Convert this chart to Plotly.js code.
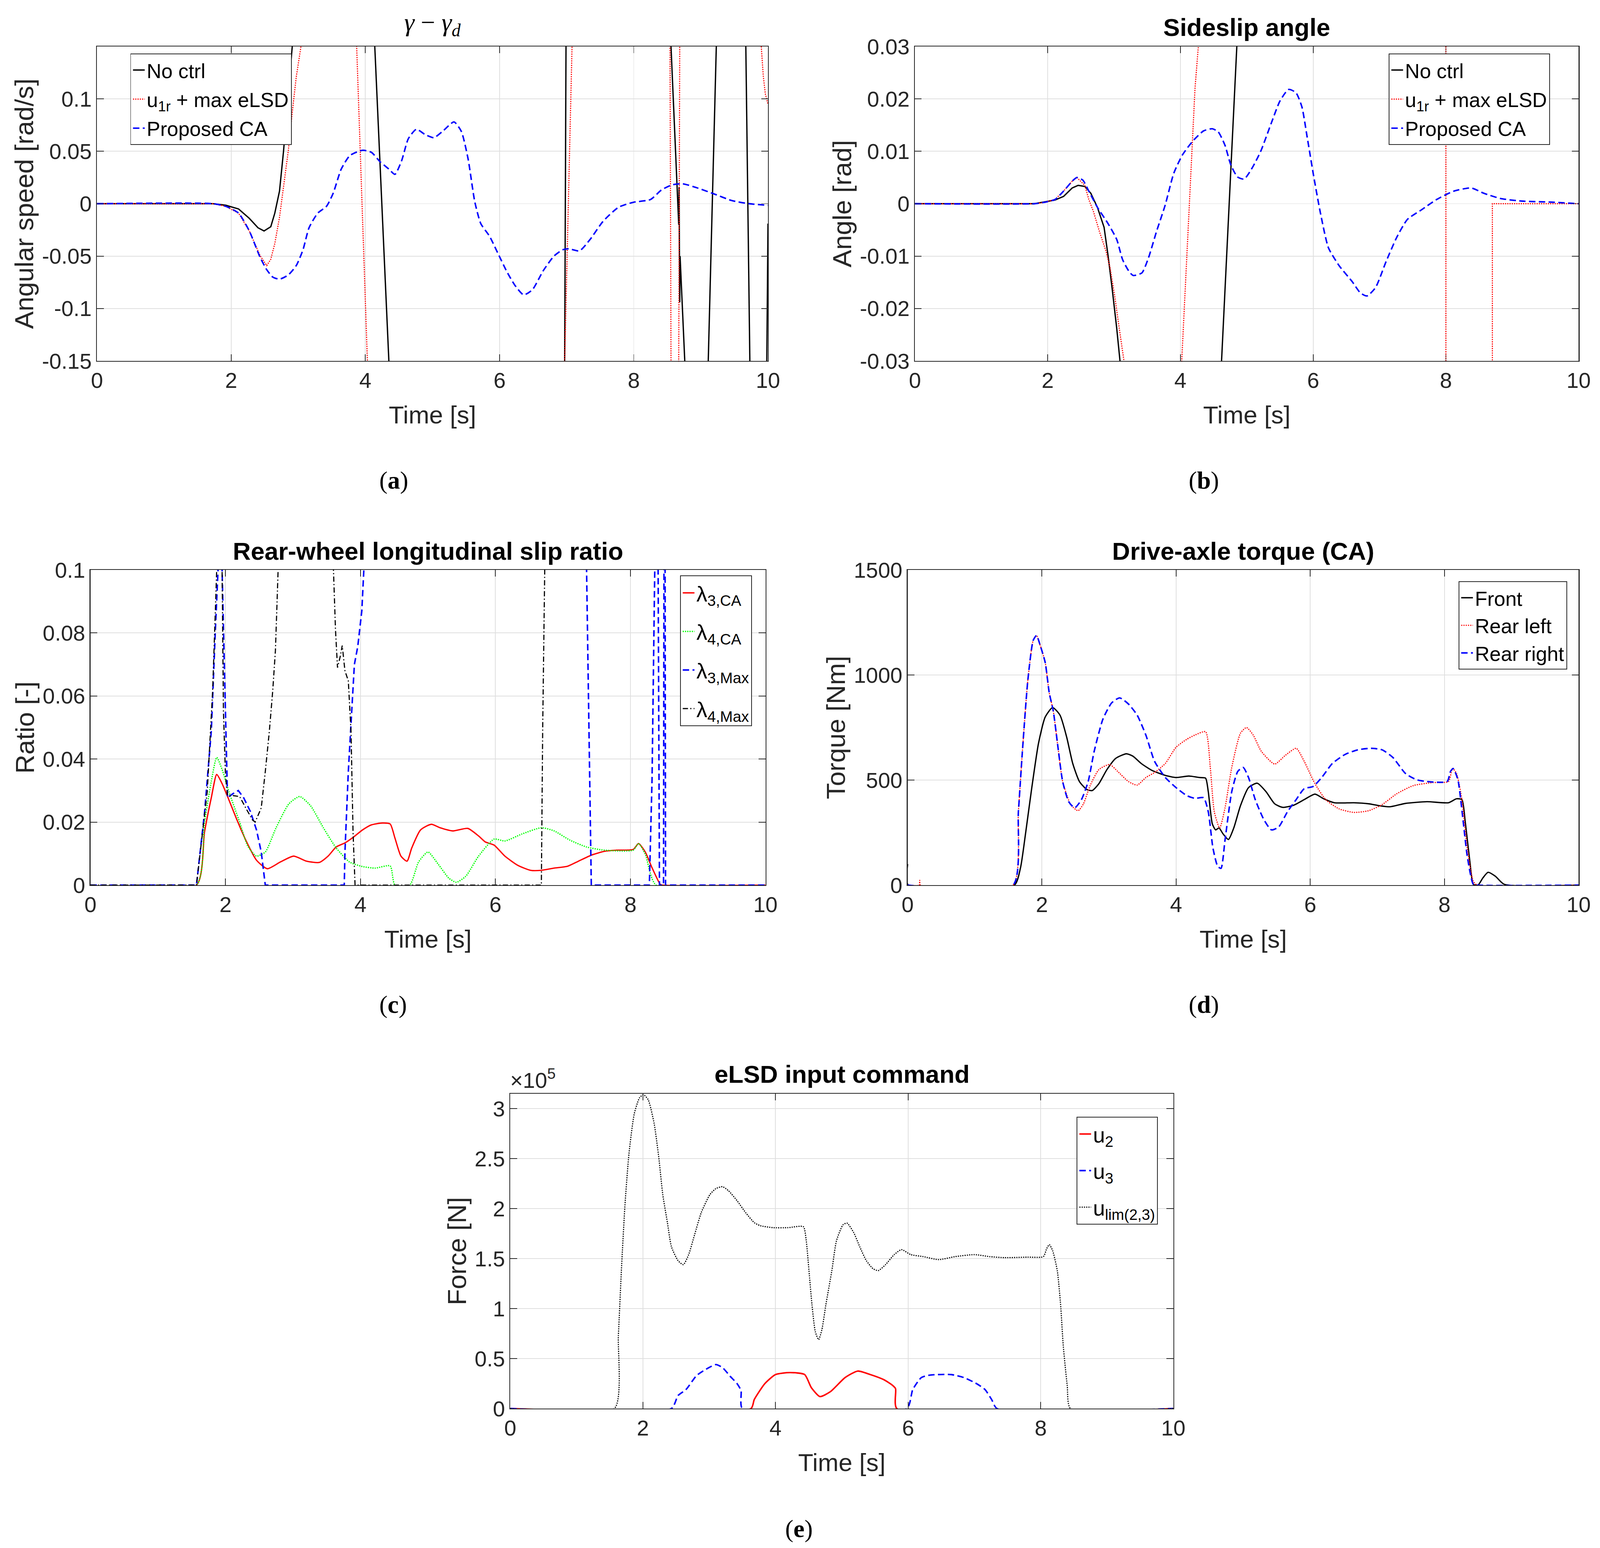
<!DOCTYPE html>
<html>
<head>
<meta charset="utf-8">
<script src="https://cdn.plot.ly/plotly-3.0.1.min.js"></script>
<style>html,body{margin:0;padding:0;background:#fff;overflow:hidden;}#chart{position:absolute;left:0;top:0;}</style>
</head>
<body>
<div id="chart"></div>
<script>
// ---------------- DATA ----------------
// (a) gamma - gamma_d  [rad/s]
const aNoCtrlT = [0,1.73,1.92,2.11,2.27,2.40,2.49,2.59,2.65,2.72,2.78,2.85,2.91,2.95,4.10,4.14,4.35,4.40,6.95,6.97,6.99,7.01,8.53,8.555,8.67,8.675,8.685,8.69,8.76,8.80,9.09,9.11,9.23,9.25,9.65,9.67,9.73,9.75,9.97,9.985,10];
const aNoCtrlY = [0,0,-0.0015,-0.005,-0.014,-0.023,-0.026,-0.022,-0.009,0.012,0.050,0.102,0.15,0.25,0.25,0.15,-0.15,-0.25,-0.25,-0.15,0.15,0.25,0.25,0.15,-0.02,0.016,-0.094,-0.05,-0.15,-0.25,-0.25,-0.15,0.15,0.25,0.25,0.15,-0.15,-0.25,-0.25,-0.15,-0.019];
const aMaxT = [0,1.73,1.92,2.11,2.27,2.43,2.53,2.59,2.65,2.72,2.78,2.85,2.91,2.97,3.04,3.10,3.80,3.87,4.03,4.10,6.95,6.97,7.08,7.12,8.53,8.54,8.555,8.565,8.66,8.67,8.685,8.70,9.86,9.90,9.93,9.96,10];
const aMaxY = [0,0,-0.0025,-0.009,-0.026,-0.0495,-0.059,-0.053,-0.038,-0.013,0.016,0.050,0.087,0.121,0.15,0.25,0.25,0.15,-0.15,-0.25,-0.25,-0.15,0.15,0.25,0.25,0.15,-0.15,-0.25,-0.25,-0.15,0.15,0.25,0.25,0.15,0.122,0.105,0.095];
const aCAT = [0,1.73,1.92,2.11,2.27,2.43,2.53,2.62,2.72,2.85,2.97,3.07,3.16,3.29,3.42,3.52,3.64,3.77,3.96,4.09,4.22,4.35,4.44,4.54,4.64,4.76,4.89,5.02,5.15,5.32,5.43,5.53,5.63,5.72,5.85,5.98,6.11,6.23,6.36,6.49,6.65,6.81,6.94,7.03,7.19,7.35,7.54,7.77,7.99,8.25,8.41,8.57,8.73,8.95,9.21,9.46,9.72,10];
const aCAY = [0,0,-0.0025,-0.009,-0.026,-0.051,-0.063,-0.070,-0.072,-0.068,-0.059,-0.044,-0.023,-0.009,-0.0025,0.010,0.033,0.046,0.051,0.049,0.040,0.033,0.028,0.041,0.062,0.071,0.066,0.063,0.069,0.078,0.069,0.043,0.002,-0.019,-0.031,-0.048,-0.065,-0.078,-0.087,-0.082,-0.064,-0.050,-0.044,-0.043,-0.045,-0.034,-0.017,-0.0035,0.0013,0.004,0.013,0.018,0.019,0.015,0.009,0.003,0.0,-0.0015];
const aTickVals = [-0.15,-0.1,-0.05,0,0.05,0.1];
const aTickText = ["-0.15","-0.1","-0.05","0","0.05","0.1"];

// (b) Sideslip angle [rad]
const bNoCtrlT = [0,1.80,2.11,2.24,2.37,2.46,2.56,2.65,2.75,2.85,2.91,2.97,3.04,3.09,3.15,4.55,4.62,4.85,4.92,10];
const bNoCtrlY = [0,0,0.0007,0.0014,0.003,0.0035,0.0033,0.002,-0.0007,-0.0045,-0.0099,-0.016,-0.0237,-0.03,-0.05,-0.05,-0.03,0.03,0.05,0.05];
const bMaxT = [0,1.80,1.92,2.11,2.24,2.37,2.44,2.56,2.62,2.69,2.78,2.88,2.94,3.01,3.07,3.15,3.22,3.95,4.02,4.09,4.16,4.22,4.27,4.35,8.0,8.0,8.70,8.70,10];
const bMaxY = [0,0,0.0002,0.0008,0.0024,0.0043,0.005,0.0035,0.0008,-0.0015,-0.0053,-0.0091,-0.0122,-0.0176,-0.023,-0.03,-0.05,-0.05,-0.03,-0.012,0.007,0.022,0.03,0.05,0.05,-0.05,-0.05,0,0];
const bCAT = [0,1.80,1.92,2.11,2.24,2.37,2.44,2.53,2.62,2.75,2.91,3.04,3.13,3.23,3.29,3.42,3.52,3.64,3.77,3.90,4.03,4.19,4.35,4.48,4.57,4.67,4.76,4.86,4.96,5.08,5.21,5.37,5.50,5.63,5.74,5.83,5.91,6.01,6.11,6.23,6.39,6.59,6.71,6.81,6.94,7.10,7.26,7.42,7.64,7.86,8.12,8.38,8.57,8.82,9.14,9.59,10];
const bCAY = [0,0,0.0002,0.0008,0.0024,0.0043,0.005,0.0045,0.0024,-0.0007,-0.0038,-0.0068,-0.0107,-0.013,-0.0137,-0.0132,-0.0103,-0.0053,-0.0003,0.0058,0.0093,0.012,0.0139,0.0143,0.0137,0.0112,0.0074,0.0051,0.0047,0.0068,0.010,0.0154,0.0196,0.0218,0.0212,0.0185,0.0127,0.0051,-0.0018,-0.0084,-0.0118,-0.0149,-0.017,-0.0176,-0.016,-0.011,-0.0064,-0.003,-0.0011,0.0008,0.0024,0.003,0.002,0.001,0.0005,0.0003,0];
const bTickVals = [-0.03,-0.02,-0.01,0,0.01,0.02,0.03];
const bTickText = ["-0.03","-0.02","-0.01","0","0.01","0.02","0.03"];

// (c) Rear-wheel longitudinal slip ratio [-]
const cL3CAT = [0,1.57,1.69,1.79,1.87,1.95,2.05,2.17,2.30,2.46,2.62,2.81,3.01,3.20,3.39,3.52,3.64,3.77,3.90,4.03,4.16,4.32,4.44,4.51,4.60,4.69,4.76,4.89,5.05,5.18,5.37,5.59,5.75,5.85,5.98,6.14,6.33,6.52,6.68,6.87,7.07,7.23,7.42,7.61,7.80,8.04,8.12,8.22,8.31,8.44,8.47,10];
const cL3CAY = [0,0,0.0169,0.0277,0.0351,0.0322,0.0271,0.0207,0.0143,0.0079,0.0052,0.0073,0.0092,0.0076,0.0072,0.0092,0.0121,0.0134,0.0153,0.0175,0.0191,0.0197,0.0194,0.015,0.0092,0.0076,0.0118,0.0175,0.0193,0.0182,0.0172,0.018,0.0156,0.0137,0.0127,0.0092,0.0063,0.0047,0.0047,0.0054,0.006,0.0076,0.0095,0.0107,0.0111,0.0113,0.0132,0.0105,0.006,0.0003,0,0];
const cL4CAT = [0,1.57,1.69,1.79,1.87,1.95,2.05,2.21,2.33,2.46,2.59,2.75,2.94,3.10,3.26,3.45,3.64,3.84,4.03,4.22,4.44,4.51,4.73,4.86,5.00,5.15,5.31,5.42,5.56,5.75,5.98,6.14,6.39,6.68,6.87,7.10,7.35,7.61,8.04,8.12,8.22,8.38,10];
const cL4CAY = [0,0,0.020,0.0329,0.0405,0.0367,0.0297,0.020,0.0124,0.0092,0.0105,0.0182,0.0258,0.0281,0.0252,0.0182,0.0118,0.0073,0.0059,0.0054,0.0061,0,0,0.0073,0.0105,0.0067,0.0022,0.0009,0.0028,0.0092,0.0146,0.014,0.0162,0.0182,0.0172,0.0143,0.0121,0.0111,0.0111,0.0132,0.0098,0,0];
const cL3MaxT = [0,1.57,1.69,1.79,1.85,1.89,1.91,1.93,1.95,2.03,2.11,2.19,2.27,2.37,2.46,2.53,2.59,3.76,3.77,3.82,3.87,3.91,3.96,4.02,4.05,4.07,7.33,7.35,7.42,8.28,8.32,8.36,8.38,8.40,8.41,8.43,8.49,8.50,8.51,8.52,10];
const cL3MaxY = [0,0,0.023,0.0489,0.0808,0.1,0.15,0.15,0.1,0.0277,0.029,0.030,0.0277,0.0233,0.0175,0.0105,0,0,0.0105,0.036,0.055,0.070,0.0757,0.087,0.1,0.15,0.15,0.1,0,0,0.0335,0.1,0.15,0.15,0.1,0,0,0.15,0.15,0,0];
const cL4MaxT = [0,1.57,1.73,1.81,1.85,1.87,1.89,1.93,1.95,1.97,2.00,2.03,2.11,2.21,2.30,2.40,2.44,2.53,2.59,2.65,2.70,2.74,2.76,2.78,2.80,3.58,3.60,3.63,3.66,3.70,3.73,3.77,3.82,3.86,3.89,3.92,6.68,6.70,6.73,6.75,10];
const cL4MaxY = [0,0,0.0297,0.0616,0.087,0.1,0.15,0.15,0.1,0.055,0.035,0.0284,0.0284,0.0281,0.0245,0.0207,0.020,0.0245,0.036,0.0488,0.0616,0.0744,0.087,0.1,0.15,0.15,0.1,0.081,0.069,0.0725,0.076,0.068,0.0648,0.0488,0.0169,0,0,0.05,0.1,0.15,0.15];
const cTickVals = [0,0.02,0.04,0.06,0.08,0.1];
const cTickText = ["0","0.02","0.04","0.06","0.08","0.1"];

// (d) Drive-axle torque (CA) [Nm]
const dFrontT = [0,0.01,1.59,1.68,1.76,1.85,1.95,2.05,2.16,2.27,2.37,2.46,2.56,2.67,2.75,2.85,2.97,3.10,3.26,3.36,3.48,3.64,3.84,4.00,4.19,4.35,4.44,4.48,4.54,4.59,4.64,4.70,4.78,4.86,4.96,5.08,5.21,5.34,5.47,5.59,5.75,5.91,6.07,6.20,6.36,6.65,6.87,7.03,7.19,7.42,7.74,8.06,8.18,8.26,8.31,8.38,8.43,8.50,8.57,8.65,8.76,8.89,10];
const dFrontY = [100,0,0,80,253,464,675,800,845,809,704,579,493,455,450,483,550,603,625,613,579,546,522,512,519,512,509,445,292,263,272,244,217,272,378,464,485,445,387,370,380,407,433,411,392,392,387,378,373,389,397,392,411,407,301,109,4,0,33,61,42,4,0];
const dRearLeftT = [0,0.17,0.18,0.19,1.57,1.65,1.71,1.79,1.87,1.92,1.98,2.05,2.11,2.17,2.24,2.31,2.43,2.54,2.62,2.72,2.85,3.01,3.13,3.29,3.42,3.55,3.68,3.84,4.00,4.16,4.28,4.44,4.51,4.57,4.65,4.73,4.83,4.96,5.05,5.15,5.27,5.47,5.63,5.79,5.91,6.07,6.23,6.43,6.65,6.87,7.07,7.29,7.54,7.83,8.06,8.12,8.18,8.26,8.34,8.43,8.49,10];
const dRearLeftY = [0,0,23,0,0,349,637,972,1164,1188,1136,1059,915,829,656,493,383,354,387,474,550,574,541,493,476,512,536,579,656,694,714,730,560,349,272,368,560,723,750,714,637,576,618,651,589,483,407,363,346,354,383,435,474,488,493,555,531,407,176,18,0,0];
const dRearRightT = [0,1.57,1.65,1.71,1.79,1.87,1.92,1.98,2.05,2.11,2.17,2.24,2.31,2.40,2.49,2.59,2.69,2.78,2.91,3.04,3.16,3.29,3.42,3.55,3.68,3.84,4.00,4.16,4.28,4.41,4.48,4.55,4.62,4.67,4.73,4.83,4.92,5.00,5.08,5.18,5.31,5.42,5.53,5.66,5.79,5.91,6.04,6.17,6.33,6.52,6.71,6.91,7.07,7.23,7.42,7.58,7.74,8.04,8.09,8.13,8.20,8.28,8.34,8.43,8.49,10];
const dRearRightY = [0,0,349,637,972,1164,1188,1136,1059,915,829,656,493,397,368,407,493,637,790,867,891,862,809,714,589,512,464,426,413,416,349,176,90,80,215,445,541,560,512,407,311,263,277,349,407,459,469,512,579,622,644,651,644,608,531,502,493,493,541,555,502,301,138,4,0,0];
const dTickVals = [0,500,1000,1500];

// (e) eLSD input command [N], values in units of 1e5 N
const eU2T = [0,3.63,3.68,3.84,4.00,4.22,4.44,4.54,4.67,4.83,5.05,5.24,5.43,5.63,5.75,5.81,5.83,10];
const eU2Y = [0,0,0.09,0.25,0.34,0.36,0.34,0.21,0.12,0.17,0.31,0.375,0.34,0.29,0.24,0.20,0,0];
const eU3T = [0,2.43,2.53,2.65,2.81,2.97,3.10,3.20,3.32,3.42,3.48,3.50,5.98,6.07,6.20,6.33,6.65,6.84,7.03,7.16,7.26,7.34,10];
const eU3Y = [0,0,0.13,0.19,0.33,0.40,0.44,0.41,0.32,0.25,0.18,0,0,0.19,0.31,0.335,0.34,0.31,0.25,0.19,0.09,0,0];
const eUlimT = [0,1.57,1.63,1.68,1.73,1.79,1.87,1.95,2.01,2.08,2.17,2.24,2.30,2.37,2.43,2.53,2.61,2.69,2.78,2.88,3.01,3.10,3.20,3.29,3.42,3.55,3.68,3.77,3.96,4.19,4.42,4.46,4.51,4.55,4.60,4.65,4.70,4.76,4.85,4.92,5.02,5.08,5.18,5.27,5.37,5.47,5.55,5.66,5.79,5.90,6.04,6.23,6.46,6.71,7.00,7.23,7.45,7.80,8.04,8.09,8.13,8.18,8.25,8.30,8.34,8.40,8.45,10];
const eUlimY = [0,0,0.73,1.44,2.04,2.55,2.95,3.11,3.14,3.09,2.85,2.51,2.14,1.86,1.62,1.48,1.44,1.54,1.74,1.96,2.14,2.20,2.22,2.18,2.08,1.96,1.86,1.83,1.81,1.81,1.82,1.70,1.34,1.04,0.77,0.69,0.79,1.04,1.38,1.68,1.84,1.855,1.76,1.62,1.48,1.40,1.38,1.44,1.54,1.59,1.54,1.52,1.49,1.52,1.54,1.52,1.51,1.515,1.52,1.60,1.64,1.58,1.38,1.04,0.63,0.23,0,0];
const eTickVals = [0,0.5,1,1.5,2,2.5,3];
const eTickText = ["0","0.5","1","1.5","2","2.5","3"];

const timeTicks = [0,2,4,6,8,10];

// ---------------- LAYOUT ----------------
const W = 4421, H = 3963;                 // reference canvas
const VW = window.innerWidth || W;        // actual viewport
const VH = window.innerHeight || H;
const S = Math.min(1, (VW / W + VH / H) / 2 + 0.0); // compromise scale for pixel sizes
const px = v => v * S;

const FONT = '"Liberation Sans", Arial, Helvetica, sans-serif';
const SERIF = '"Liberation Serif", "Times New Roman", serif';
const AX = '#262626';
const GRID = '#dfdfdf';
const BLACK = '#000000', RED = '#ff0000', BLUE = '#0000ff', GREEN = '#00ff00';

function xd(x0, x1) { return [x0 / W, x1 / W]; }
function yd(y0, y1) { return [1 - y1 / H, 1 - y0 / H]; }

function xAxis(domain, anchor) {
  return {
    domain: domain, anchor: anchor, range: [0, 10],
    tickvals: timeTicks, ticks: 'inside', ticklen: px(18), tickwidth: px(2), tickcolor: AX,
    showline: true, linecolor: AX, linewidth: px(2.5), mirror: 'ticks',
    showgrid: true, gridcolor: GRID, gridwidth: px(2), zeroline: false,
    tickfont: { family: FONT, size: px(58), color: AX }, automargin: false,
    ticklabelstandoff: 0,
    title: { text: 'Time [s]', font: { family: FONT, size: px(66), color: AX }, standoff: px(37) }
  };
}
function yAxis(domain, anchor, range, tv, tt, label) {
  const o = {
    domain: domain, anchor: anchor, range: range,
    tickvals: tv, ticks: 'inside', ticklen: px(18), tickwidth: px(2), tickcolor: AX,
    showline: true, linecolor: AX, linewidth: px(2.5), mirror: 'ticks',
    showgrid: true, gridcolor: GRID, gridwidth: px(2), zeroline: false,
    tickfont: { family: FONT, size: px(58), color: AX }, automargin: false,
    ticklabelstandoff: px(1),
    title: { text: label, font: { family: FONT, size: px(70), color: AX }, standoff: 0 }
  };
  if (tt) o.ticktext = tt;
  return o;
}
function legendAt(lx, ly, gap, fs) {
  return {
    x: lx / W, y: 1 - ly / H, xanchor: 'left', yanchor: 'top',
    bgcolor: '#ffffff', bordercolor: AX, borderwidth: px(2),
    font: { family: FONT, size: px(fs || 54), color: '#000' }, tracegroupgap: px(gap || 0),
    itemwidth: 30
  };
}

let gid = 0;
function tr(x, y, name, color, width, dash, xa, ya, leg, smooth) {
  gid += 1;
  return { x: x, y: y, name: name, type: 'scatter', mode: 'lines',
    line: { color: color, width: px(width), dash: dash, shape: smooth ? 'spline' : 'linear', smoothing: 0.6 },
    xaxis: xa, yaxis: ya, legend: leg, legendgroup: 'g' + gid, showlegend: true, hoverinfo: 'skip' };
}

const DASH = px(17) + 'px,' + px(9) + 'px';
const DOT = px(3) + 'px,' + px(3) + 'px';
const DASHDOT = px(14) + 'px,' + px(6) + 'px,' + px(3) + 'px,' + px(6) + 'px';

const data = [
  tr(aNoCtrlT, aNoCtrlY, 'No ctrl', BLACK, 3.5, 'solid', 'x', 'y', 'legend', false),
  tr(aMaxT, aMaxY, 'u<sub>1r</sub> + max eLSD', RED, 3, DOT, 'x', 'y', 'legend', false),
  tr(aCAT, aCAY, 'Proposed CA', BLUE, 4, DASH, 'x', 'y', 'legend', true),

  tr(bNoCtrlT, bNoCtrlY, 'No ctrl', BLACK, 3.5, 'solid', 'x2', 'y2', 'legend2', false),
  tr(bMaxT, bMaxY, 'u<sub>1r</sub> + max eLSD', RED, 3, DOT, 'x2', 'y2', 'legend2', false),
  tr(bCAT, bCAY, 'Proposed CA', BLUE, 4, DASH, 'x2', 'y2', 'legend2', true),

  tr(cL3CAT, cL3CAY, 'λ<sub>3,CA</sub>', RED, 3.5, 'solid', 'x3', 'y3', 'legend3', true),
  tr(cL4CAT, cL4CAY, 'λ<sub>4,CA</sub>', GREEN, 3.5, DOT, 'x3', 'y3', 'legend3', true),
  tr(cL3MaxT, cL3MaxY, 'λ<sub>3,Max</sub>', BLUE, 4, DASH, 'x3', 'y3', 'legend3', false),
  tr(cL4MaxT, cL4MaxY, 'λ<sub>4,Max</sub>', BLACK, 3, DASHDOT, 'x3', 'y3', 'legend3', false),

  tr(dFrontT, dFrontY, 'Front', BLACK, 3.5, 'solid', 'x4', 'y4', 'legend4', true),
  tr(dRearLeftT, dRearLeftY, 'Rear left', RED, 3, DOT, 'x4', 'y4', 'legend4', true),
  tr(dRearRightT, dRearRightY, 'Rear right', BLUE, 4, DASH, 'x4', 'y4', 'legend4', true),

  tr(eU2T, eU2Y, 'u<sub>2</sub>', RED, 4, 'solid', 'x5', 'y5', 'legend5', true),
  tr(eU3T, eU3Y, 'u<sub>3</sub>', BLUE, 4, DASH, 'x5', 'y5', 'legend5', true),
  tr(eUlimT, eUlimY, 'u<sub>lim(2,3)</sub>', BLACK, 3, DOT, 'x5', 'y5', 'legend5', true)
];

function titleAnn(text, cx, cy, font) {
  return { text: text, x: cx / W, y: 1 - cy / H, xref: 'paper', yref: 'paper',
    xanchor: 'center', yanchor: 'middle', showarrow: false, font: font };
}
const TITLEFONT = { family: FONT, size: px(66), color: '#000', weight: 'bold' };
const CAPFONT = { family: SERIF, size: px(66), color: '#000' };

const layout = {
  width: VW, height: VH,
  margin: { l: 0, r: 0, t: 0, b: 0 },
  paper_bgcolor: '#ffffff', plot_bgcolor: '#ffffff',
  font: { family: FONT, color: AX },
  xaxis: xAxis(xd(268, 2122), 'y'),
  yaxis: yAxis(yd(119, 924), 'x', [-0.15, 0.15], aTickVals, aTickText, 'Angular speed [rad/s]'),
  xaxis2: xAxis(xd(2528, 4362), 'y2'),
  yaxis2: yAxis(yd(119, 924), 'x2', [-0.03, 0.03], bTickVals, bTickText, 'Angle [rad]'),
  xaxis3: xAxis(xd(250, 2115), 'y3'),
  yaxis3: yAxis(yd(1459, 2266), 'x3', [0, 0.1], cTickVals, cTickText, 'Ratio [-]'),
  xaxis4: xAxis(xd(2508, 4362), 'y4'),
  yaxis4: yAxis(yd(1459, 2266), 'x4', [0, 1500], dTickVals, null, 'Torque [Nm]'),
  xaxis5: xAxis(xd(1410, 3242), 'y5'),
  yaxis5: yAxis(yd(2800, 3606), 'x5', [0, 3.15], eTickVals, eTickText, 'Force [N]'),
  legend: legendAt(360, 137, 4, 54),
  legend2: legendAt(3837, 137, 4, 54),
  legend3: legendAt(1879, 1473, 24, 58),
  legend4: legendAt(4030, 1488, 0, 54),
  legend5: legendAt(2975, 2859, 20, 57),
  annotations: [
    titleAnn('<i>γ</i> − <i>γ</i><sub><i>d</i></sub>', 1195, 62, { family: SERIF, size: px(68), color: '#000' }),
    titleAnn('Sideslip angle', 3445, 70, TITLEFONT),
    titleAnn('Rear-wheel longitudinal slip ratio', 1182, 1410, TITLEFONT),
    titleAnn('Drive-axle torque (CA)', 3435, 1410, TITLEFONT),
    titleAnn('eLSD input command', 2326, 2749, TITLEFONT),
    titleAnn('×10<sup>5</sup>', 1473, 2762, { family: FONT, size: px(58), color: AX }),
    titleAnn('(<b>a</b>)', 1088, 1229, CAPFONT),
    titleAnn('(<b>b</b>)', 3327, 1229, CAPFONT),
    titleAnn('(<b>c</b>)', 1086, 2571, CAPFONT),
    titleAnn('(<b>d</b>)', 3327, 2571, CAPFONT),
    titleAnn('(<b>e</b>)', 2208, 3913, CAPFONT)
  ]
};

document.getElementById('chart').style.width = VW + 'px';
document.getElementById('chart').style.height = VH + 'px';
Plotly.newPlot('chart', data, layout, { displayModeBar: false, staticPlot: true });
</script>
</body>
</html>
